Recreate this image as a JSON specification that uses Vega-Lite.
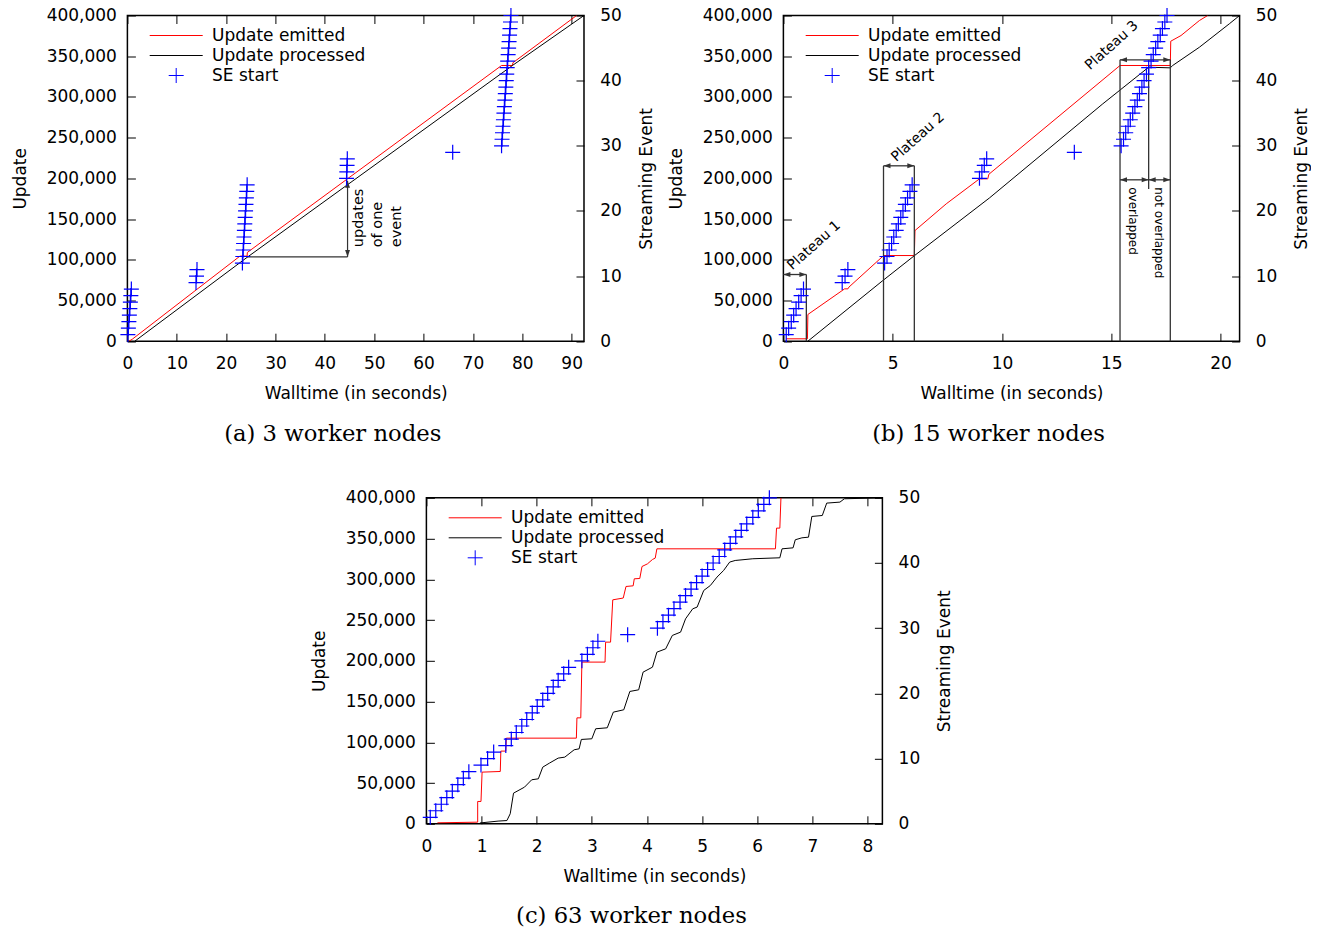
{
  "$schema": "https://vega.github.io/schema/vega-lite/v6.json",
  "background": "white",
  "padding": {"left": 9.4, "top": 4.5, "right": 0, "bottom": 0},
  "config": {
    "font": "DejaVu Sans",
    "view": {"stroke": "#000", "strokeWidth": 1.5},
    "axis": {"labelFont": "DejaVu Sans", "labelFontSize": 17, "titleFont": "DejaVu Sans", "titleFontSize": 17, "titleFontWeight": "normal", "labelColor": "#000", "titleColor": "#000", "tickColor": "#000", "tickWidth": 1, "grid": false, "domain": false, "labelFlush": false, "labelOverlap": false},
    "title": {"font": "DejaVu Serif", "fontSize": 22.7, "fontWeight": "normal", "orient": "bottom", "offset": 21, "color": "#000", "anchor": "middle", "frame": "bounds"}
  },
  "datasets": {
    "lines_a": [
      {"s": "Update emitted", "t": 0.3, "v": 0},
      {"s": "Update emitted", "t": 1.0, "v": 2500},
      {"s": "Update emitted", "t": 22.8, "v": 104500},
      {"s": "Update emitted", "t": 24.25, "v": 104500},
      {"s": "Update emitted", "t": 24.3, "v": 109000},
      {"s": "Update emitted", "t": 75.8, "v": 338600},
      {"s": "Update emitted", "t": 78.0, "v": 338600},
      {"s": "Update emitted", "t": 78.1, "v": 342000},
      {"s": "Update emitted", "t": 91.0, "v": 400000},
      {"s": "Update processed", "t": 1.5, "v": 0},
      {"s": "Update processed", "t": 24.25, "v": 103000},
      {"s": "Update processed", "t": 78.0, "v": 338600},
      {"s": "Update processed", "t": 92.5, "v": 400000}
    ],
    "segs_a": [
      {"t": 24.25, "t2": 44.6, "v": 103500, "v2": 103500},
      {"t": 44.6, "t2": 44.6, "v": 103500, "v2": 197000}
    ],
    "heads_a": [
      {"t": 44.6, "v": 197000, "dir": "up"},
      {"t": 44.6, "v": 103500, "dir": "down"}
    ],
    "note_a": [
      {"t": 45.5, "v": 115400, "label": "updates\nof one\nevent"}
    ],
    "se_a": [
      {"t": 0.1, "e": 1}, {"t": 0.2, "e": 2}, {"t": 0.3, "e": 3}, {"t": 0.4, "e": 4},
      {"t": 0.5, "e": 5}, {"t": 0.6, "e": 6}, {"t": 0.7, "e": 7}, {"t": 0.8, "e": 8},
      {"t": 13.9, "e": 9}, {"t": 14.0, "e": 10}, {"t": 14.1, "e": 11},
      {"t": 23.3, "e": 12}, {"t": 23.38, "e": 13}, {"t": 23.46, "e": 14}, {"t": 23.54, "e": 15},
      {"t": 23.62, "e": 16}, {"t": 23.7, "e": 17}, {"t": 23.78, "e": 18}, {"t": 23.86, "e": 19},
      {"t": 23.94, "e": 20}, {"t": 24.02, "e": 21}, {"t": 24.1, "e": 22}, {"t": 24.18, "e": 23},
      {"t": 24.26, "e": 24},
      {"t": 44.4, "e": 25}, {"t": 44.45, "e": 26}, {"t": 44.5, "e": 27}, {"t": 44.55, "e": 28},
      {"t": 65.9, "e": 29},
      {"t": 75.8, "e": 30}, {"t": 75.9, "e": 31}, {"t": 75.99, "e": 32}, {"t": 76.09, "e": 33},
      {"t": 76.18, "e": 34}, {"t": 76.28, "e": 35}, {"t": 76.37, "e": 36}, {"t": 76.47, "e": 37},
      {"t": 76.56, "e": 38}, {"t": 76.66, "e": 39}, {"t": 76.75, "e": 40}, {"t": 76.85, "e": 41},
      {"t": 76.94, "e": 42}, {"t": 77.04, "e": 43}, {"t": 77.13, "e": 44}, {"t": 77.23, "e": 45},
      {"t": 77.32, "e": 46}, {"t": 77.42, "e": 47}, {"t": 77.51, "e": 48}, {"t": 77.61, "e": 49},
      {"t": 77.7, "e": 50}
    ],
    "lines_b": [
      {"s": "Update emitted", "t": 0.13, "v": 2950},
      {"s": "Update emitted", "t": 1.1, "v": 2950},
      {"s": "Update emitted", "t": 1.12, "v": 32800},
      {"s": "Update emitted", "t": 2.8, "v": 64300},
      {"s": "Update emitted", "t": 2.95, "v": 64300},
      {"s": "Update emitted", "t": 3.0, "v": 66500},
      {"s": "Update emitted", "t": 4.55, "v": 104300},
      {"s": "Update emitted", "t": 4.6, "v": 105200},
      {"s": "Update emitted", "t": 5.99, "v": 105200},
      {"s": "Update emitted", "t": 6.02, "v": 135900},
      {"s": "Update emitted", "t": 7.45, "v": 168700},
      {"s": "Update emitted", "t": 8.97, "v": 199400},
      {"s": "Update emitted", "t": 9.35, "v": 199400},
      {"s": "Update emitted", "t": 9.4, "v": 205000},
      {"s": "Update emitted", "t": 15.4, "v": 338600},
      {"s": "Update emitted", "t": 17.7, "v": 338600},
      {"s": "Update emitted", "t": 17.72, "v": 368400},
      {"s": "Update emitted", "t": 18.19, "v": 375400},
      {"s": "Update emitted", "t": 19.03, "v": 393800},
      {"s": "Update emitted", "t": 19.41, "v": 400000},
      {"s": "Update processed", "t": 1.12, "v": 0},
      {"s": "Update processed", "t": 4.55, "v": 74500},
      {"s": "Update processed", "t": 6.0, "v": 105200},
      {"s": "Update processed", "t": 9.43, "v": 176000},
      {"s": "Update processed", "t": 14.61, "v": 291500},
      {"s": "Update processed", "t": 16.71, "v": 336500},
      {"s": "Update processed", "t": 17.7, "v": 335700},
      {"s": "Update processed", "t": 17.81, "v": 338600},
      {"s": "Update processed", "t": 19.03, "v": 361000},
      {"s": "Update processed", "t": 20.4, "v": 389800},
      {"s": "Update processed", "t": 20.87, "v": 400000}
    ],
    "segs_b": [
      {"t": 1.05, "t2": 1.05, "v": 0, "v2": 81900},
      {"t": 0, "t2": 1.05, "v": 81900, "v2": 81900},
      {"t": 4.58, "t2": 4.58, "v": 0, "v2": 215400},
      {"t": 5.99, "t2": 5.99, "v": 0, "v2": 215400},
      {"t": 4.58, "t2": 5.99, "v": 215400, "v2": 215400},
      {"t": 15.4, "t2": 15.4, "v": 0, "v2": 345600},
      {"t": 17.7, "t2": 17.7, "v": 0, "v2": 345600},
      {"t": 15.4, "t2": 17.7, "v": 345600, "v2": 345600},
      {"t": 16.71, "t2": 16.71, "v": 187000, "v2": 338600},
      {"t": 15.4, "t2": 16.71, "v": 198200, "v2": 198200},
      {"t": 16.71, "t2": 17.7, "v": 198200, "v2": 198200}
    ],
    "heads_b": [
      {"t": 0, "v": 81900, "dir": "left"}, {"t": 1.05, "v": 81900, "dir": "right"},
      {"t": 4.58, "v": 215400, "dir": "left"}, {"t": 5.99, "v": 215400, "dir": "right"},
      {"t": 15.4, "v": 345600, "dir": "left"}, {"t": 17.7, "v": 345600, "dir": "right"},
      {"t": 15.4, "v": 198200, "dir": "left"}, {"t": 16.71, "v": 198200, "dir": "right"},
      {"t": 16.71, "v": 198200, "dir": "left"}, {"t": 17.7, "v": 198200, "dir": "right"}
    ],
    "plateaus_b": [
      {"t": 0.41, "v": 86800, "label": "Plateau 1"},
      {"t": 5.16, "v": 219800, "label": "Plateau 2"},
      {"t": 14.03, "v": 332400, "label": "Plateau 3"}
    ],
    "overlap_b": [
      {"t": 16.01, "v": 189100, "label": "overlapped"},
      {"t": 17.2, "v": 189100, "label": "not overlapped"}
    ],
    "se_b": [
      {"t": 0.13, "e": 1}, {"t": 0.24, "e": 2}, {"t": 0.36, "e": 3}, {"t": 0.47, "e": 4},
      {"t": 0.58, "e": 5}, {"t": 0.7, "e": 6}, {"t": 0.81, "e": 7}, {"t": 0.92, "e": 8},
      {"t": 2.69, "e": 9}, {"t": 2.82, "e": 10}, {"t": 2.95, "e": 11},
      {"t": 4.63, "e": 12}, {"t": 4.74, "e": 13}, {"t": 4.84, "e": 14}, {"t": 4.95, "e": 15},
      {"t": 5.05, "e": 16}, {"t": 5.16, "e": 17}, {"t": 5.26, "e": 18}, {"t": 5.37, "e": 19},
      {"t": 5.47, "e": 20}, {"t": 5.58, "e": 21}, {"t": 5.68, "e": 22}, {"t": 5.79, "e": 23},
      {"t": 5.89, "e": 24},
      {"t": 8.97, "e": 25}, {"t": 9.08, "e": 26}, {"t": 9.19, "e": 27}, {"t": 9.3, "e": 28},
      {"t": 13.31, "e": 29},
      {"t": 15.45, "e": 30}, {"t": 15.56, "e": 31}, {"t": 15.66, "e": 32}, {"t": 15.77, "e": 33},
      {"t": 15.87, "e": 34}, {"t": 15.98, "e": 35}, {"t": 16.08, "e": 36}, {"t": 16.19, "e": 37},
      {"t": 16.29, "e": 38}, {"t": 16.4, "e": 39}, {"t": 16.5, "e": 40}, {"t": 16.61, "e": 41},
      {"t": 16.71, "e": 42}, {"t": 16.82, "e": 43}, {"t": 16.92, "e": 44}, {"t": 17.03, "e": 45},
      {"t": 17.13, "e": 46}, {"t": 17.24, "e": 47}, {"t": 17.34, "e": 48}, {"t": 17.45, "e": 49},
      {"t": 17.55, "e": 50}
    ],
    "lines_c": [
      {"s": "Update emitted", "t": 0.2, "v": 1200},
      {"s": "Update emitted", "t": 0.93, "v": 2000},
      {"s": "Update emitted", "t": 0.93, "v": 27400},
      {"s": "Update emitted", "t": 0.99, "v": 27400},
      {"s": "Update emitted", "t": 1.01, "v": 63400},
      {"s": "Update emitted", "t": 1.34, "v": 64200},
      {"s": "Update emitted", "t": 1.35, "v": 89200},
      {"s": "Update emitted", "t": 1.44, "v": 89200},
      {"s": "Update emitted", "t": 1.45, "v": 105100},
      {"s": "Update emitted", "t": 2.72, "v": 105100},
      {"s": "Update emitted", "t": 2.73, "v": 130000},
      {"s": "Update emitted", "t": 2.8, "v": 130000},
      {"s": "Update emitted", "t": 2.82, "v": 198400},
      {"s": "Update emitted", "t": 3.24, "v": 198400},
      {"s": "Update emitted", "t": 3.25, "v": 222900},
      {"s": "Update emitted", "t": 3.34, "v": 222900},
      {"s": "Update emitted", "t": 3.38, "v": 274800},
      {"s": "Update emitted", "t": 3.57, "v": 277000},
      {"s": "Update emitted", "t": 3.62, "v": 291200},
      {"s": "Update emitted", "t": 3.75, "v": 292000},
      {"s": "Update emitted", "t": 3.77, "v": 300600},
      {"s": "Update emitted", "t": 3.87, "v": 301000},
      {"s": "Update emitted", "t": 3.91, "v": 315700},
      {"s": "Update emitted", "t": 4.01, "v": 319000},
      {"s": "Update emitted", "t": 4.1, "v": 324300},
      {"s": "Update emitted", "t": 4.15, "v": 326000},
      {"s": "Update emitted", "t": 4.18, "v": 337400},
      {"s": "Update emitted", "t": 6.33, "v": 337400},
      {"s": "Update emitted", "t": 6.35, "v": 362800},
      {"s": "Update emitted", "t": 6.41, "v": 362800},
      {"s": "Update emitted", "t": 6.43, "v": 400000},
      {"s": "Update processed", "t": 0.97, "v": 1000},
      {"s": "Update processed", "t": 1.3, "v": 3300},
      {"s": "Update processed", "t": 1.46, "v": 4000},
      {"s": "Update processed", "t": 1.52, "v": 12300},
      {"s": "Update processed", "t": 1.58, "v": 37600},
      {"s": "Update processed", "t": 1.78, "v": 45000},
      {"s": "Update processed", "t": 1.91, "v": 54000},
      {"s": "Update processed", "t": 2.03, "v": 55200},
      {"s": "Update processed", "t": 2.11, "v": 69500},
      {"s": "Update processed", "t": 2.23, "v": 74400},
      {"s": "Update processed", "t": 2.39, "v": 80600},
      {"s": "Update processed", "t": 2.51, "v": 81800},
      {"s": "Update processed", "t": 2.68, "v": 90800},
      {"s": "Update processed", "t": 2.77, "v": 92000},
      {"s": "Update processed", "t": 2.81, "v": 103500},
      {"s": "Update processed", "t": 3.0, "v": 104300},
      {"s": "Update processed", "t": 3.07, "v": 116600},
      {"s": "Update processed", "t": 3.28, "v": 117800},
      {"s": "Update processed", "t": 3.39, "v": 137000},
      {"s": "Update processed", "t": 3.58, "v": 139900},
      {"s": "Update processed", "t": 3.69, "v": 162400},
      {"s": "Update processed", "t": 3.85, "v": 164400},
      {"s": "Update processed", "t": 3.93, "v": 186100},
      {"s": "Update processed", "t": 4.1, "v": 192200},
      {"s": "Update processed", "t": 4.18, "v": 210600},
      {"s": "Update processed", "t": 4.34, "v": 214700},
      {"s": "Update processed", "t": 4.46, "v": 231100},
      {"s": "Update processed", "t": 4.61, "v": 235200},
      {"s": "Update processed", "t": 4.7, "v": 251500},
      {"s": "Update processed", "t": 4.83, "v": 263800},
      {"s": "Update processed", "t": 4.91, "v": 265900},
      {"s": "Update processed", "t": 5.03, "v": 286300},
      {"s": "Update processed", "t": 5.15, "v": 292400},
      {"s": "Update processed", "t": 5.27, "v": 302700},
      {"s": "Update processed", "t": 5.39, "v": 310800},
      {"s": "Update processed", "t": 5.5, "v": 321100},
      {"s": "Update processed", "t": 5.6, "v": 323100},
      {"s": "Update processed", "t": 5.92, "v": 325200},
      {"s": "Update processed", "t": 6.41, "v": 326400},
      {"s": "Update processed", "t": 6.45, "v": 337400},
      {"s": "Update processed", "t": 6.65, "v": 338600},
      {"s": "Update processed", "t": 6.69, "v": 348500},
      {"s": "Update processed", "t": 6.81, "v": 350900},
      {"s": "Update processed", "t": 6.93, "v": 351700},
      {"s": "Update processed", "t": 6.99, "v": 377100},
      {"s": "Update processed", "t": 7.18, "v": 378300},
      {"s": "Update processed", "t": 7.26, "v": 393500},
      {"s": "Update processed", "t": 7.5, "v": 394700},
      {"s": "Update processed", "t": 7.58, "v": 398800},
      {"s": "Update processed", "t": 8.27, "v": 400000}
    ],
    "se_c": [
      {"t": 0.07, "e": 1}, {"t": 0.17, "e": 2}, {"t": 0.27, "e": 3}, {"t": 0.37, "e": 4},
      {"t": 0.47, "e": 5}, {"t": 0.57, "e": 6}, {"t": 0.67, "e": 7}, {"t": 0.77, "e": 8},
      {"t": 0.99, "e": 9}, {"t": 1.11, "e": 10}, {"t": 1.22, "e": 11},
      {"t": 1.44, "e": 12}, {"t": 1.54, "e": 13}, {"t": 1.63, "e": 14}, {"t": 1.73, "e": 15},
      {"t": 1.82, "e": 16}, {"t": 1.92, "e": 17}, {"t": 2.01, "e": 18}, {"t": 2.11, "e": 19},
      {"t": 2.2, "e": 20}, {"t": 2.3, "e": 21}, {"t": 2.39, "e": 22}, {"t": 2.49, "e": 23},
      {"t": 2.58, "e": 24},
      {"t": 2.82, "e": 25}, {"t": 2.92, "e": 26}, {"t": 3.02, "e": 27}, {"t": 3.11, "e": 28},
      {"t": 3.65, "e": 29},
      {"t": 4.19, "e": 30}, {"t": 4.29, "e": 31}, {"t": 4.39, "e": 32}, {"t": 4.49, "e": 33},
      {"t": 4.6, "e": 34}, {"t": 4.7, "e": 35}, {"t": 4.8, "e": 36}, {"t": 4.9, "e": 37},
      {"t": 5.0, "e": 38}, {"t": 5.1, "e": 39}, {"t": 5.2, "e": 40}, {"t": 5.31, "e": 41},
      {"t": 5.41, "e": 42}, {"t": 5.51, "e": 43}, {"t": 5.61, "e": 44}, {"t": 5.71, "e": 45},
      {"t": 5.81, "e": 46}, {"t": 5.92, "e": 47}, {"t": 6.02, "e": 48}, {"t": 6.12, "e": 49},
      {"t": 6.22, "e": 50}
    ]
  },
  "vconcat": [
    {
      "hconcat": [
        {
          "width": 456.6, "height": 325.7,
          "title": "(a) 3 worker nodes",
          "layer": [
            {
              "data": {"name": "lines_a"},
              "mark": {"type": "line", "strokeWidth": 1, "clip": true},
              "encoding": {
                "x": {"field": "t", "type": "quantitative", "scale": {"domain": [0, 92.5], "nice": false, "zero": false},
                  "axis": {"title": "Walltime (in seconds)", "values": [0, 10, 20, 30, 40, 50, 60, 70, 80, 90], "format": "d", "tickSize": -8, "labelPadding": 22.3, "titlePadding": 14}},
                "y": {"field": "v", "type": "quantitative", "scale": {"domain": [0, 400000], "nice": false},
                  "axis": {"title": "Update", "values": [0, 50000, 100000, 150000, 200000, 250000, 300000, 350000, 400000], "format": ",d", "tickSize": -8, "labelPadding": 19, "titlePadding": 17}},
                "color": {"field": "s", "type": "nominal",
                  "scale": {"domain": ["Update emitted", "Update processed", "SE start"], "range": ["#ff0000", "#000000", "#0000ff"]},
                  "legend": {"orient": "none", "legendX": 10, "legendY": 11.5, "title": null, "padding": 0, "labelFont": "DejaVu Sans", "labelFontSize": 17, "labelColor": "#000", "symbolSize": 100, "symbolStrokeWidth": 1, "symbolOffset": 30.3, "labelOffset": 27.3, "rowPadding": 2, "labelLimit": 300,
                    "encode": {"symbols": {"update": {
                      "shape": {"signal": "datum.value === 'SE start' ? 'M-1.5,0H1.5M0,-1.5V1.5' : 'M-5.3,0H5.3'"},
                      "fill": {"value": "transparent"}, "strokeWidth": {"value": 1}, "opacity": {"value": 1}}}}}},
                "order": {"value": null}
              }
            },
            {
              "layer": [
                {
                  "data": {"name": "segs_a"},
                  "mark": {"type": "rule", "color": "#333", "strokeWidth": 1.2},
                  "encoding": {
                    "x": {"field": "t", "type": "quantitative", "scale": {"domain": [0, 92.5], "nice": false, "zero": false}, "axis": null},
                    "x2": {"field": "t2"},
                    "y": {"field": "v", "type": "quantitative", "scale": {"domain": [0, 400000], "nice": false}, "axis": null},
                    "y2": {"field": "v2"}
                  }
                },
                {
                  "data": {"name": "heads_a"},
                  "transform": [{"filter": "datum.dir === 'up'"}],
                  "mark": {"type": "point", "filled": true, "size": 49, "color": "#333", "opacity": 1, "shape": "M0,0L-0.7,2L0.7,2Z"},
                  "encoding": {
                    "x": {"field": "t", "type": "quantitative", "scale": {"domain": [0, 92.5], "nice": false, "zero": false}, "axis": null},
                    "y": {"field": "v", "type": "quantitative", "scale": {"domain": [0, 400000], "nice": false}, "axis": null}
                  }
                },
                {
                  "data": {"name": "heads_a"},
                  "transform": [{"filter": "datum.dir === 'down'"}],
                  "mark": {"type": "point", "filled": true, "size": 49, "color": "#333", "opacity": 1, "shape": "M0,0L-0.7,-2L0.7,-2Z"},
                  "encoding": {
                    "x": {"field": "t", "type": "quantitative", "scale": {"domain": [0, 92.5], "nice": false, "zero": false}, "axis": null},
                    "y": {"field": "v", "type": "quantitative", "scale": {"domain": [0, 400000], "nice": false}, "axis": null}
                  }
                },
                {
                  "data": {"name": "note_a"},
                  "mark": {"type": "text", "angle": 270, "align": "left", "baseline": "top", "font": "DejaVu Sans", "fontSize": 14.5, "lineBreak": "\n", "lineHeight": 19, "color": "#000"},
                  "encoding": {
                    "x": {"field": "t", "type": "quantitative", "scale": {"domain": [0, 92.5], "nice": false, "zero": false}, "axis": null},
                    "y": {"field": "v", "type": "quantitative", "scale": {"domain": [0, 400000], "nice": false}, "axis": null},
                    "text": {"field": "label"}
                  }
                }
              ]
            },
            {
              "data": {"name": "se_a"},
              "mark": {"type": "point", "shape": "M-1,0H1M0,-1V1", "filled": false, "size": 225, "strokeWidth": 1.2, "color": "#0000ff", "opacity": 1},
              "encoding": {
                "x": {"field": "t", "type": "quantitative", "scale": {"domain": [0, 92.5], "nice": false, "zero": false},
                  "axis": {"orient": "top", "labels": false, "title": null, "values": [0, 10, 20, 30, 40, 50, 60, 70, 80, 90], "tickSize": -8}},
                "y": {"field": "e", "type": "quantitative", "scale": {"domain": [0, 50], "nice": false},
                  "axis": {"orient": "right", "title": "Streaming Event", "values": [0, 10, 20, 30, 40, 50], "tickSize": -8, "labelPadding": 23.7, "titleAngle": 270, "titleBaseline": "top", "titlePadding": 17}}
              }
            }
          ],
          "resolve": {"scale": {"y": "independent"}, "axis": {"x": "independent", "y": "independent"}}
        },
        {
          "width": 456.2, "height": 325.7,
          "title": "(b) 15 worker nodes",
          "layer": [
            {
              "data": {"name": "lines_b"},
              "mark": {"type": "line", "strokeWidth": 1, "clip": true},
              "encoding": {
                "x": {"field": "t", "type": "quantitative", "scale": {"domain": [0, 20.87], "nice": false, "zero": false},
                  "axis": {"title": "Walltime (in seconds)", "values": [0, 5, 10, 15, 20], "format": "d", "tickSize": -8, "labelPadding": 22.3, "titlePadding": 14}},
                "y": {"field": "v", "type": "quantitative", "scale": {"domain": [0, 400000], "nice": false},
                  "axis": {"title": "Update", "values": [0, 50000, 100000, 150000, 200000, 250000, 300000, 350000, 400000], "format": ",d", "tickSize": -8, "labelPadding": 19, "titlePadding": 17}},
                "color": {"field": "s", "type": "nominal",
                  "scale": {"domain": ["Update emitted", "Update processed", "SE start"], "range": ["#ff0000", "#000000", "#0000ff"]},
                  "legend": {"orient": "none", "legendX": 10, "legendY": 11.5, "title": null, "padding": 0, "labelFont": "DejaVu Sans", "labelFontSize": 17, "labelColor": "#000", "symbolSize": 100, "symbolStrokeWidth": 1, "symbolOffset": 30.3, "labelOffset": 27.3, "rowPadding": 2, "labelLimit": 300,
                    "encode": {"symbols": {"update": {
                      "shape": {"signal": "datum.value === 'SE start' ? 'M-1.5,0H1.5M0,-1.5V1.5' : 'M-5.3,0H5.3'"},
                      "fill": {"value": "transparent"}, "strokeWidth": {"value": 1}, "opacity": {"value": 1}}}}}},
                "order": {"value": null}
              }
            },
            {
              "layer": [
                {
                  "data": {"name": "segs_b"},
                  "mark": {"type": "rule", "color": "#333", "strokeWidth": 1.3},
                  "encoding": {
                    "x": {"field": "t", "type": "quantitative", "scale": {"domain": [0, 20.87], "nice": false, "zero": false}, "axis": null},
                    "x2": {"field": "t2"},
                    "y": {"field": "v", "type": "quantitative", "scale": {"domain": [0, 400000], "nice": false}, "axis": null},
                    "y2": {"field": "v2"}
                  }
                },
                {
                  "data": {"name": "heads_b"},
                  "transform": [{"filter": "datum.dir === 'left'"}],
                  "mark": {"type": "point", "filled": true, "size": 49, "color": "#333", "opacity": 1, "shape": "M0,0L2,-0.7L2,0.7Z"},
                  "encoding": {
                    "x": {"field": "t", "type": "quantitative", "scale": {"domain": [0, 20.87], "nice": false, "zero": false}, "axis": null},
                    "y": {"field": "v", "type": "quantitative", "scale": {"domain": [0, 400000], "nice": false}, "axis": null}
                  }
                },
                {
                  "data": {"name": "heads_b"},
                  "transform": [{"filter": "datum.dir === 'right'"}],
                  "mark": {"type": "point", "filled": true, "size": 49, "color": "#333", "opacity": 1, "shape": "M0,0L-2,-0.7L-2,0.7Z"},
                  "encoding": {
                    "x": {"field": "t", "type": "quantitative", "scale": {"domain": [0, 20.87], "nice": false, "zero": false}, "axis": null},
                    "y": {"field": "v", "type": "quantitative", "scale": {"domain": [0, 400000], "nice": false}, "axis": null}
                  }
                },
                {
                  "data": {"name": "plateaus_b"},
                  "mark": {"type": "text", "angle": 318, "align": "left", "baseline": "alphabetic", "font": "DejaVu Sans", "fontSize": 14, "color": "#000"},
                  "encoding": {
                    "x": {"field": "t", "type": "quantitative", "scale": {"domain": [0, 20.87], "nice": false, "zero": false}, "axis": null},
                    "y": {"field": "v", "type": "quantitative", "scale": {"domain": [0, 400000], "nice": false}, "axis": null},
                    "text": {"field": "label"}
                  }
                },
                {
                  "data": {"name": "overlap_b"},
                  "mark": {"type": "text", "angle": 90, "align": "left", "baseline": "middle", "font": "DejaVu Sans", "fontSize": 12, "color": "#000"},
                  "encoding": {
                    "x": {"field": "t", "type": "quantitative", "scale": {"domain": [0, 20.87], "nice": false, "zero": false}, "axis": null},
                    "y": {"field": "v", "type": "quantitative", "scale": {"domain": [0, 400000], "nice": false}, "axis": null},
                    "text": {"field": "label"}
                  }
                }
              ]
            },
            {
              "data": {"name": "se_b"},
              "mark": {"type": "point", "shape": "M-1,0H1M0,-1V1", "filled": false, "size": 225, "strokeWidth": 1.2, "color": "#0000ff", "opacity": 1},
              "encoding": {
                "x": {"field": "t", "type": "quantitative", "scale": {"domain": [0, 20.87], "nice": false, "zero": false},
                  "axis": {"orient": "top", "labels": false, "title": null, "values": [0, 5, 10, 15, 20], "tickSize": -8}},
                "y": {"field": "e", "type": "quantitative", "scale": {"domain": [0, 50], "nice": false},
                  "axis": {"orient": "right", "title": "Streaming Event", "values": [0, 10, 20, 30, 40, 50], "tickSize": -8, "labelPadding": 23.7, "titleAngle": 270, "titleBaseline": "top", "titlePadding": 17}}
              }
            }
          ],
          "resolve": {"scale": {"y": "independent"}, "axis": {"x": "independent", "y": "independent"}}
        }
      ],
      "spacing": 10,
      "resolve": {"scale": {"color": "independent"}, "legend": {"color": "independent"}}
    },
    {
      "hconcat": [
        {
          "width": 180.9, "height": 10,
          "data": {"values": [{"k": 0}]},
          "mark": {"type": "point", "opacity": 0},
          "view": {"stroke": null, "fill": "white"}
        },
        {
          "width": 456, "height": 326,
          "title": "(c) 63 worker nodes",
          "layer": [
            {
              "data": {"name": "lines_c"},
              "mark": {"type": "line", "strokeWidth": 1, "clip": true},
              "encoding": {
                "x": {"field": "t", "type": "quantitative", "scale": {"domain": [0, 8.27], "nice": false, "zero": false},
                  "axis": {"title": "Walltime (in seconds)", "values": [0, 1, 2, 3, 4, 5, 6, 7, 8], "format": "d", "tickSize": -8, "labelPadding": 22.3, "titlePadding": 14}},
                "y": {"field": "v", "type": "quantitative", "scale": {"domain": [0, 400000], "nice": false},
                  "axis": {"title": "Update", "values": [0, 50000, 100000, 150000, 200000, 250000, 300000, 350000, 400000], "format": ",d", "tickSize": -8, "labelPadding": 19, "titlePadding": 17}},
                "color": {"field": "s", "type": "nominal",
                  "scale": {"domain": ["Update emitted", "Update processed", "SE start"], "range": ["#ff0000", "#000000", "#0000ff"]},
                  "legend": {"orient": "none", "legendX": 10, "legendY": 11.5, "title": null, "padding": 0, "labelFont": "DejaVu Sans", "labelFontSize": 17, "labelColor": "#000", "symbolSize": 100, "symbolStrokeWidth": 1, "symbolOffset": 30.3, "labelOffset": 27.3, "rowPadding": 2, "labelLimit": 300,
                    "encode": {"symbols": {"update": {
                      "shape": {"signal": "datum.value === 'SE start' ? 'M-1.5,0H1.5M0,-1.5V1.5' : 'M-5.3,0H5.3'"},
                      "fill": {"value": "transparent"}, "strokeWidth": {"value": 1}, "opacity": {"value": 1}}}}}},
                "order": {"value": null}
              }
            },
            {
              "data": {"name": "se_c"},
              "mark": {"type": "point", "shape": "M-1,0H1M0,-1V1", "filled": false, "size": 225, "strokeWidth": 1.2, "color": "#0000ff", "opacity": 1},
              "encoding": {
                "x": {"field": "t", "type": "quantitative", "scale": {"domain": [0, 8.27], "nice": false, "zero": false},
                  "axis": {"orient": "top", "labels": false, "title": null, "values": [0, 1, 2, 3, 4, 5, 6, 7, 8], "tickSize": -8}},
                "y": {"field": "e", "type": "quantitative", "scale": {"domain": [0, 50], "nice": false},
                  "axis": {"orient": "right", "title": "Streaming Event", "values": [0, 10, 20, 30, 40, 50], "tickSize": -8, "labelPadding": 23.7, "titleAngle": 270, "titleBaseline": "top", "titlePadding": 17}}
              }
            }
          ],
          "resolve": {"scale": {"y": "independent"}, "axis": {"x": "independent", "y": "independent"}}
        }
      ],
      "spacing": 0,
      "resolve": {"scale": {"color": "independent"}, "legend": {"color": "independent"}}
    }
  ],
  "spacing": 40.3,
  "resolve": {"scale": {"color": "independent"}, "legend": {"color": "independent"}}
}
